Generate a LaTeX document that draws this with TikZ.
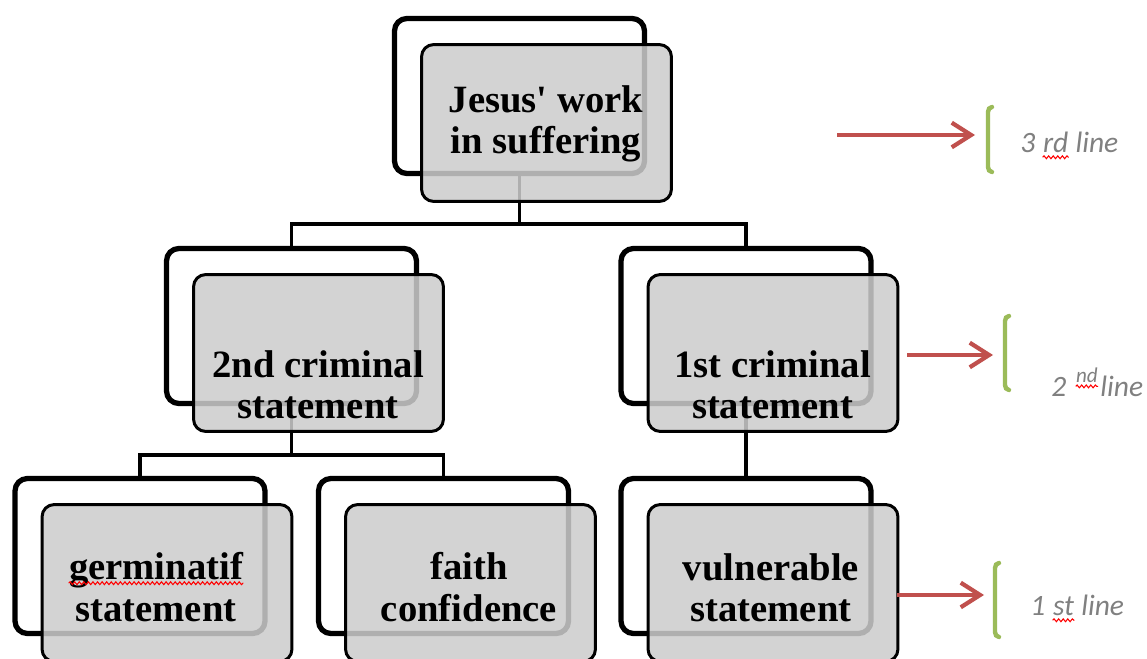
\documentclass[tikz,border=0pt]{standalone}
\usepackage{fontspec}
\usepackage{tikz}
\usetikzlibrary{positioning,arrows.meta,backgrounds,decorations.pathmorphing}
\newfontfamily\boxfont{Liberation Serif}
\newfontfamily\notefont{Carlito}
\definecolor{arrowred}{RGB}{192,80,77}
\definecolor{bracegreen}{RGB}{155,187,89}

\begin{document}
\begin{tikzpicture}[x=0.02cm,y=-0.02cm]
\tikzstyle{back}=[draw,line width=3pt,rounded corners=7pt,fill=white,minimum width=5cm,minimum height=3.1cm]
\tikzstyle{front}=[draw,line width=1.7pt,rounded corners=7pt,fill=black!20,fill opacity=0.86,minimum width=5cm,minimum height=3.14cm]
\tikzstyle{boxtext}=[font=\boxfont\bfseries\fontsize{22}{23.5}\selectfont,align=center,inner sep=0pt]
\tikzstyle{conn}=[line width=2pt]
\tikzstyle{pointer}=[arrowred,line width=2.4pt,-{Straight Barb[length=11pt,width=14pt]}]
\tikzstyle{brace}=[bracegreen,line width=2.5pt,line cap=round]
\tikzstyle{note}=[font=\notefont\itshape\fontsize{16.8}{19}\selectfont,text=black!50,inner sep=0pt,anchor=base west]
\tikzstyle{spell}=[red,line width=0.6pt,decorate,decoration={snake,amplitude=0.8pt,segment length=2.6pt}]
\useasboundingbox (0,0) rectangle (1147,659);

% back frames
\node [back] (jesusB) at (519.5,96) {};
\node [back] (crimTwoB) at (291.5,326) {};
\node [back] (crimOneB) at (746,326) {};
\node [back] (germB) at (140,556) {};
\node [back] (faithB) at (443.5,556) {};
\node [back] (vulnB) at (746,556) {};
% grey cards on top
\node [front] (jesusF) at ([shift={(27,27)}]jesusB.center) {};
\node [front] (crimTwoF) at ([shift={(27,27)}]crimTwoB.center) {};
\node [front] (crimOneF) at ([shift={(27,27)}]crimOneB.center) {};
\node [front] (germF) at ([shift={(27,27)}]germB.center) {};
\node [front] (faithF) at ([shift={(27,27)}]faithB.center) {};
\node [front] (vulnF) at ([shift={(27,27)}]vulnB.center) {};
\node [boxtext] (jesusT) at (546,124) {Jesus' work\\in suffering};
\node [boxtext] (crimTwoT) at (318,385) {2nd criminal\\statement};
\node [boxtext] (crimOneT) at (772.5,385) {1st criminal\\statement};
\node [boxtext] (germT) at (156,587) {germinatif\\statement};
\node [boxtext] (faithT) at (469,587) {faith\\confidence};
\node [boxtext] (vulnT) at (771,588) {vulnerable\\statement};
\draw[spell] ([yshift=-0.62cm]germT.north west) -- ([yshift=-0.62cm]germT.north east);

% tree lines
\coordinate (forkTop) at (519.5,224);
\coordinate (forkLeft) at (291.5,455);
\begin{scope}[on background layer]
\draw[conn] (jesusB.south) -- (forkTop) -| (crimTwoB.north);
\draw[conn] (forkTop) -| (crimOneB.north);
\draw[conn] (crimTwoB.south) -- (forkLeft) -| (germB.north);
\draw[conn] (forkLeft) -| (faithB.north);
\draw[conn] (crimOneB.south) -- (vulnB.north);
\end{scope}

% line markers
\coordinate (thirdS) at (837,135);
\coordinate (thirdE) at (975,135);
\coordinate (secondS) at (907,355);
\coordinate (secondE) at (993,355);
\coordinate (firstS) at (897,595);
\coordinate (firstE) at (984,595);
\draw[pointer] (thirdS) -- (thirdE);
\draw[pointer] (secondS) -- (secondE);
\draw[pointer] (firstS) -- (firstE);
\draw[brace] (992,107) to[out=180,in=90] (988,112) -- (988,167) to[out=-90,in=180] (992,172);
\draw[brace] (1009,316) to[out=180,in=90] (1005,321) -- (1005,385) to[out=-90,in=180] (1009,390);
\draw[brace] (999,563) to[out=180,in=90] (995,568) -- (995,632) to[out=-90,in=180] (999,637);

\node [note] (thirdNum) at (1020,152) {3};
\node [note,right=0.14cm of thirdNum.base east,anchor=base west] (thirdSup) {rd};
\node [note,right=0.13cm of thirdSup.base east,anchor=base west] (thirdWord) {line};
\node [note] (secondNum) at (1051,396) {2};
\node [note,font=\notefont\itshape\fontsize{12}{14}\selectfont,right=0.18cm of secondNum.base east,anchor=base west,yshift=0.28cm] (secondSup) {nd};
\node [note] (secondWord) at (1100,396) {line};
\node [note] (firstNum) at (1030,615) {1};
\node [note,right=0.14cm of firstNum.base east,anchor=base west] (firstSup) {st};
\node [note,right=0.13cm of firstSup.base east,anchor=base west] (firstWord) {line};
\draw[spell] ([yshift=-3pt]thirdSup.base west) -- ([yshift=-3pt]thirdSup.base east);
\draw[spell] ([yshift=-2.5pt]secondSup.base west) -- ([yshift=-2.5pt]secondSup.base east);
\draw[spell] ([yshift=-3pt]firstSup.base west) -- ([yshift=-3pt]firstSup.base east);
\end{tikzpicture}
\end{document}
